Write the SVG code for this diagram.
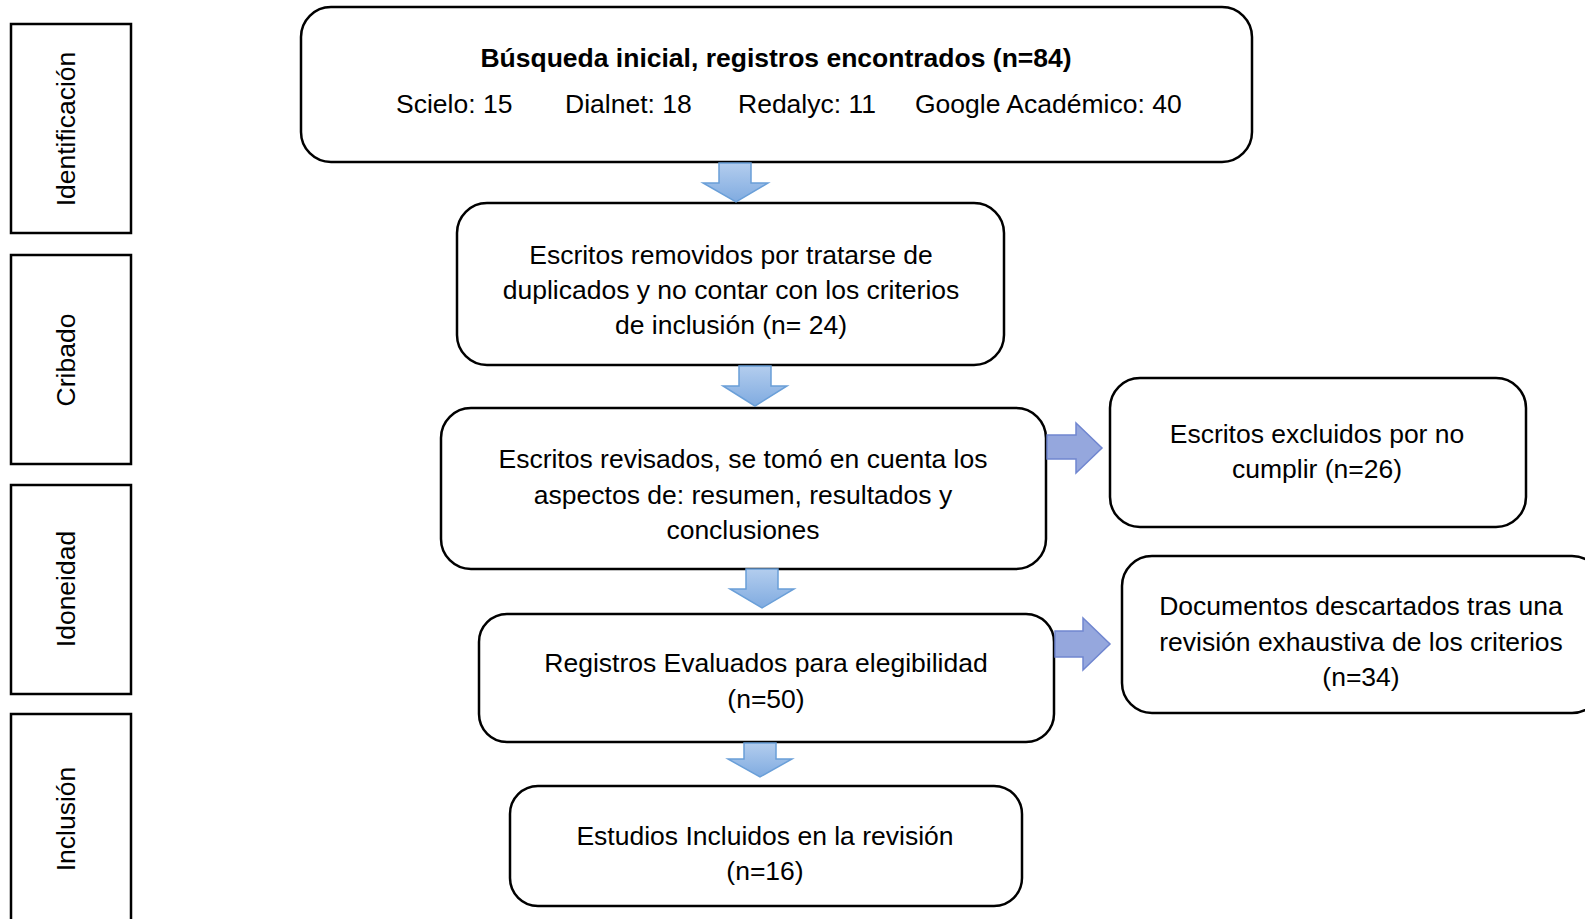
<svg xmlns="http://www.w3.org/2000/svg" width="1585" height="919" viewBox="0 0 1585 919">
<style>
.box{fill:#fff;stroke:#000;stroke-width:2.5}
.side{fill:#fff;stroke:#000;stroke-width:2.5}
.t{font-family:"Liberation Sans",Arial,sans-serif;font-size:26.5px;fill:#000;text-anchor:middle}
.b{font-weight:bold}
.l{text-anchor:start}
.down{fill:url(#gd);stroke:#6a9fd8;stroke-width:1.5}
.right{fill:#95a7dd;stroke:#7086d0;stroke-width:1.5}
</style>
<defs>
<linearGradient id="gd" x1="0" y1="0" x2="0" y2="1">
<stop offset="0" stop-color="#b3cdee"/>
<stop offset="1" stop-color="#80abe0"/>
</linearGradient>
</defs>
<g id="side-identificacion"><rect class="side" x="11" y="24" width="120" height="209"/><text class="t" transform="translate(75,129) rotate(-90)">Identificación</text></g>
<g id="side-cribado"><rect class="side" x="11" y="255" width="120" height="209"/><text class="t" transform="translate(75,360) rotate(-90)">Cribado</text></g>
<g id="side-idoneidad"><rect class="side" x="11" y="485" width="120" height="209"/><text class="t" transform="translate(75,589) rotate(-90)">Idoneidad</text></g>
<g id="side-inclusion"><rect class="side" x="11" y="714" width="120" height="220"/><text class="t" transform="translate(75,819) rotate(-90)">Inclusión</text></g>

<g id="n1"><rect class="box" x="301" y="7" width="951" height="155" rx="30"/>
<text class="t b" x="776" y="67">Búsqueda inicial, registros encontrados (n=84)</text>
<text class="t l" x="396" y="113">Scielo: 15</text>
<text class="t l" x="565" y="113">Dialnet: 18</text>
<text class="t l" x="738" y="113">Redalyc: 11</text>
<text class="t l" x="915" y="113">Google Académico: 40</text></g>

<g id="n2"><rect class="box" x="457" y="203" width="547" height="162" rx="30"/>
<text class="t" x="731" y="264">Escritos removidos por tratarse de</text>
<text class="t" x="731" y="299">duplicados y no contar con los criterios</text>
<text class="t" x="731" y="334">de inclusión (n= 24)</text></g>

<g id="n3"><rect class="box" x="441" y="408" width="605" height="161" rx="30"/>
<text class="t" x="743" y="468">Escritos revisados, se tomó en cuenta los</text>
<text class="t" x="743" y="504">aspectos de: resumen, resultados y</text>
<text class="t" x="743" y="539">conclusiones</text></g>

<g id="n4"><rect class="box" x="479" y="614" width="575" height="128" rx="28"/>
<text class="t" x="766" y="672">Registros Evaluados para elegibilidad</text>
<text class="t" x="766" y="708">(n=50)</text></g>

<g id="n5"><rect class="box" x="510" y="786" width="512" height="120" rx="28"/>
<text class="t" x="765" y="845">Estudios Incluidos en la revisión</text>
<text class="t" x="765" y="880">(n=16)</text></g>

<g id="n6"><rect class="box" x="1110" y="378" width="416" height="149" rx="30"/>
<text class="t" x="1317" y="443">Escritos excluidos por no</text>
<text class="t" x="1317" y="478">cumplir (n=26)</text></g>

<g id="n7"><rect class="box" x="1122" y="556" width="480" height="157" rx="30"/>
<text class="t" x="1361" y="615">Documentos descartados tras una</text>
<text class="t" x="1361" y="651">revisión exhaustiva de los criterios</text>
<text class="t" x="1361" y="686">(n=34)</text></g>

<g id="connectors">
<path class="down" d="M719,163 H751 V183 H768 L736,202 L703,183 H719 Z"/>
<path class="down" d="M739,366 H771 V386 H787 L755,406 L723,386 H739 Z"/>
<path class="down" d="M746,569 H778 V589 H794 L762,608 L730,589 H746 Z"/>
<path class="down" d="M744,743 H776 V759 H792 L760,777 L728,759 H744 Z"/>
<path class="right" d="M1047,435 H1076 V423 L1102,448 L1076,473 V459 H1047 Z"/>
<path class="right" d="M1055,631 H1083 V618 L1110,644 L1083,670 V657 H1055 Z"/>
</g>
</svg>
